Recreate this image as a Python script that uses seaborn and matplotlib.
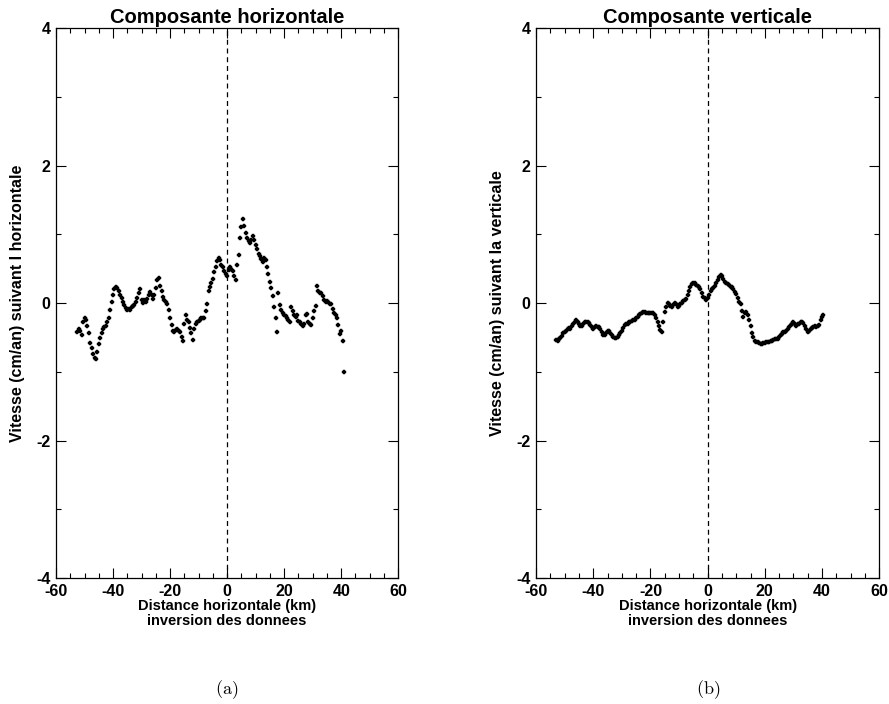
import numpy as np
import pandas as pd
import matplotlib
matplotlib.use("Agg")
import matplotlib.pyplot as plt
from matplotlib.ticker import MultipleLocator
import seaborn as sns

nan = float("nan")

# Distance along the profile (km)
distance_km = [
    -53.0, -52.5, -52.0, -51.5, -51.0, -50.5, -50.0, -49.5, -49.0, -48.5,
    -48.0, -47.5, -47.0, -46.5, -46.0, -45.5, -45.0, -44.5, -44.0, -43.5,
    -43.0, -42.5, -42.0, -41.5, -41.0, -40.5, -40.0, -39.5, -39.0, -38.5,
    -38.0, -37.5, -37.0, -36.5, -36.0, -35.5, -35.0, -34.5, -34.0, -33.5,
    -33.0, -32.5, -32.0, -31.5, -31.0, -30.5, -30.0, -29.5, -29.0, -28.5,
    -28.0, -27.5, -27.0, -26.5, -26.0, -25.5, -25.0, -24.5, -24.0, -23.5,
    -23.0, -22.5, -22.0, -21.5, -21.0, -20.5, -20.0, -19.5, -19.0, -18.5,
    -18.0, -17.5, -17.0, -16.5, -16.0, -15.5, -15.0, -14.5, -14.0, -13.5,
    -13.0, -12.5, -12.0, -11.5, -11.0, -10.5, -10.0, -9.5, -9.0, -8.5,
    -8.0, -7.5, -7.0, -6.5, -6.0, -5.5, -5.0, -4.5, -4.0, -3.5,
    -3.0, -2.5, -2.0, -1.5, -1.0, -0.5, 0.0, 0.5, 1.0, 1.5,
    2.0, 2.5, 3.0, 3.5, 4.0, 4.5, 5.0, 5.5, 6.0, 6.5,
    7.0, 7.5, 8.0, 8.5, 9.0, 9.5, 10.0, 10.5, 11.0, 11.5,
    12.0, 12.5, 13.0, 13.5, 14.0, 14.5, 15.0, 15.5, 16.0, 16.5,
    17.0, 17.5, 18.0, 18.5, 19.0, 19.5, 20.0, 20.5, 21.0, 21.5,
    22.0, 22.5, 23.0, 23.5, 24.0, 24.5, 25.0, 25.5, 26.0, 26.5,
    27.0, 27.5, 28.0, 28.5, 29.0, 29.5, 30.0, 30.5, 31.0, 31.5,
    32.0, 32.5, 33.0, 33.5, 34.0, 34.5, 35.0, 35.5, 36.0, 36.5,
    37.0, 37.5, 38.0, 38.5, 39.0, 39.5, 40.0, 40.5, 41.0,
]

# Horizontal velocity component (cm/yr)
v_horizontal = [
    nan, -0.42, -0.38, -0.40, -0.47, -0.27, -0.22, -0.25, -0.33, -0.44,
    -0.58, -0.66, -0.74, -0.80, -0.82, -0.71, -0.60, -0.51, -0.44, -0.38,
    -0.35, -0.33, -0.28, -0.22, -0.10, 0.02, 0.12, 0.20, 0.24, 0.22,
    0.18, 0.12, 0.07, 0.02, -0.03, -0.07, -0.10, -0.08, -0.10, -0.06,
    -0.04, -0.03, 0.02, 0.08, 0.14, 0.20, 0.04, 0.00, 0.05, 0.02,
    0.06, 0.12, 0.16, 0.12, 0.06, 0.12, 0.22, 0.34, 0.37, 0.25,
    0.17, 0.09, 0.04, 0.01, -0.02, -0.10, -0.22, -0.32, -0.40, -0.42,
    -0.39, -0.37, -0.41, -0.42, -0.50, -0.55, -0.30, -0.17, -0.24, -0.28,
    -0.36, -0.43, -0.54, -0.38, -0.31, -0.28, -0.26, -0.24, -0.22, -0.21,
    -0.22, -0.12, -0.02, 0.18, 0.23, 0.29, 0.35, 0.45, 0.52, 0.61,
    0.66, 0.62, 0.56, 0.52, 0.47, 0.43, 0.40, 0.48, 0.53, 0.50,
    0.47, 0.40, 0.34, 0.55, 0.70, 0.95, 1.10, 1.22, 1.12, 1.02,
    0.95, 0.90, 0.87, 0.92, 0.97, 0.92, 0.84, 0.78, 0.72, 0.68,
    0.64, 0.60, 0.66, 0.62, 0.52, 0.43, 0.31, 0.22, 0.10, -0.05,
    -0.22, -0.42, 0.14, -0.03, -0.10, -0.15, -0.17, -0.19, -0.21, -0.24,
    -0.28, -0.05, -0.12, -0.18, -0.20, -0.18, -0.26, -0.27, -0.31, -0.34,
    -0.30, -0.17, -0.16, -0.28, -0.30, -0.32, -0.22, -0.12, -0.04, 0.25,
    0.17, 0.15, 0.14, 0.10, 0.05, 0.02, 0.03, 0.02, -0.01, -0.02,
    -0.08, -0.15, -0.18, -0.22, -0.32, -0.45, -0.40, -0.55, -1.01,
]

# Vertical velocity component (cm/yr)
v_vertical = [
    -0.54, -0.55, -0.52, -0.51, -0.48, -0.44, -0.42, -0.40, -0.38, -0.36,
    -0.37, -0.34, -0.31, -0.28, -0.25, -0.27, -0.30, -0.33, -0.33, -0.30,
    -0.28, -0.28, -0.27, -0.29, -0.32, -0.35, -0.37, -0.35, -0.34, -0.35,
    -0.35, -0.38, -0.42, -0.46, -0.47, -0.44, -0.41, -0.40, -0.43, -0.47,
    -0.49, -0.51, -0.51, -0.49, -0.46, -0.43, -0.40, -0.36, -0.32, -0.30,
    -0.30, -0.28, -0.27, -0.26, -0.25, -0.24, -0.22, -0.20, -0.18, -0.16,
    -0.15, -0.13, -0.13, -0.14, -0.14, -0.15, -0.15, -0.14, -0.15, -0.18,
    -0.22, -0.27, -0.33, -0.39, -0.42, -0.28, -0.13, -0.05, 0.00, -0.02,
    -0.04, -0.05, -0.03, 0.00, -0.02, -0.05, -0.04, -0.02, 0.00, 0.03,
    0.04, 0.06, 0.12, 0.18, 0.24, 0.28, 0.29, 0.29, 0.27, 0.25,
    0.24, 0.20, 0.14, 0.09, 0.08, 0.05, 0.07, 0.12, 0.17, 0.21,
    0.22, 0.25, 0.29, 0.33, 0.38, 0.41, 0.40, 0.35, 0.30, 0.29,
    0.28, 0.26, 0.24, 0.23, 0.20, 0.16, 0.13, 0.08, 0.02, -0.02,
    -0.12, -0.20, -0.14, -0.13, -0.18, -0.25, -0.34, -0.44, -0.50, -0.55,
    -0.56, -0.57, -0.58, -0.59, -0.59, -0.58, -0.58, -0.57, -0.56, -0.56,
    -0.55, -0.55, -0.54, -0.53, -0.53, -0.52, -0.49, -0.47, -0.45, -0.42,
    -0.42, -0.40, -0.37, -0.35, -0.32, -0.30, -0.28, -0.30, -0.34, -0.31,
    -0.30, -0.28, -0.27, -0.29, -0.33, -0.38, -0.42, -0.40, -0.37, -0.36,
    -0.35, -0.34, -0.35, -0.33, -0.32, -0.25, -0.20, -0.17, nan,
]

titles = ["Composante horizontale", "Composante verticale"]
ylabels = ["Vitesse (cm/an) suivant l horizontale",
           "Vitesse (cm/an) suivant la verticale"]
xlabel = "Distance horizontale (km)\ninversion des donnees"
panel_tags = ["(a)", "(b)"]
xtick_vals = [-60, -40, -20, 0, 20, 40, 60]
ytick_vals = [-4, -2, 0, 2, 4]

df = pd.DataFrame({"x": distance_km, "vh": v_horizontal, "vv": v_vertical})

sns.set_theme(style="ticks")
plt.rcParams["font.family"] = ["Liberation Sans", "DejaVu Sans"]
plt.rcParams["axes.unicode_minus"] = False
plt.rcParams["mathtext.fontset"] = "cm"
plt.rcParams["text.color"] = "black"
plt.rcParams["axes.labelcolor"] = "black"
plt.rcParams["xtick.color"] = "black"
plt.rcParams["ytick.color"] = "black"

fig = plt.figure(figsize=(8.89, 7.04), dpi=100)
ax1 = fig.add_axes([0.063, 0.179, 0.385, 0.781])
ax2 = fig.add_axes([0.603, 0.179, 0.386, 0.781])

for ax, col, title, ylab, tag in zip([ax1, ax2], ["vh", "vv"], titles, ylabels, panel_tags):
    sns.scatterplot(data=df, x="x", y=col, ax=ax, marker="P", s=6,
                    color="black", edgecolor="black", linewidth=0.3, legend=False)
    ax.axvline(0, color="black", linestyle=(0, (4, 3)), linewidth=0.9)
    ax.set_xlim(-60, 60)
    ax.set_ylim(-4, 4)
    ax.xaxis.set_minor_locator(MultipleLocator(5))
    ax.yaxis.set_minor_locator(MultipleLocator(1))
    ax.set_xticks(xtick_vals)
    ax.set_xticklabels([str(v) for v in xtick_vals], fontweight="bold")
    ax.set_yticks(ytick_vals)
    ax.set_yticklabels([str(v) for v in ytick_vals], fontweight="bold")
    ax.tick_params(which="both", direction="in", top=True, right=True,
                   color="black", width=0.8)
    ax.tick_params(which="major", length=7, labelsize=11.5, pad=4)
    ax.tick_params(which="minor", length=3.5)
    for sp in ax.spines.values():
        sp.set_linewidth(0.9)
        sp.set_color("black")
    ax.set_title(title, fontsize=14.5, fontweight="bold", pad=4, color="black")
    ax.set_xlabel(xlabel, fontsize=10.5, fontweight="bold", labelpad=0,
                  linespacing=1.1, color="black")
    ax.set_ylabel(ylab, fontsize=11.5, fontweight="bold", labelpad=8, color="black")
    ax.text(0.5, -0.203, r"$\mathrm{" + tag + "}$", transform=ax.transAxes,
            ha="center", va="center", fontsize=13)

fig.savefig("out.png", dpi=100, facecolor="white")
